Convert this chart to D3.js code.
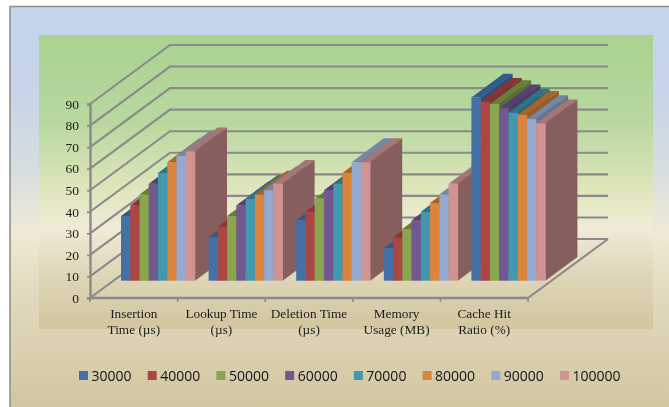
<!DOCTYPE html>
<html>
<head>
<meta charset="utf-8">
<script src="https://cdn.jsdelivr.net/npm/d3@7"></script>
<style>
html,body{margin:0;padding:0;background:#fff;overflow:hidden}
svg{display:block;filter:blur(0.45px)}
</style>
</head>
<body>
<div id="chart"></div>
<script>
const categories = [["Insertion","Time (µs)"],["Lookup Time","(µs)"],["Deletion Time","(µs)"],["Memory","Usage (MB)"],["Cache Hit","Ratio (%)"]];
const seriesNames = ["30000","40000","50000","60000","70000","80000","90000","100000"];
const s30000  = [30,20,28,15,85];
const s40000  = [35,25,32,20,83];
const s50000  = [40,30,38,24,82];
const s60000  = [45,35,42,28,80];
const s70000  = [50,38,45,32,78];
const s80000  = [55,40,50,36,77];
const s90000  = [58,42,55,40,75];
const s100000 = [60,45,55,45,73];
const seriesValues = [s30000,s40000,s50000,s60000,s70000,s80000,s90000,s100000];
const valueTicks = [0,10,20,30,40,50,60,70,80,90];
const frontColors = ["#4371a6","#aa4643","#89a54e","#71588f","#4198af","#db843d","#93a9cf","#d19392"];
const topColors   = ["#2f5b8e","#8a3431","#667f36","#553f75","#2c7486","#a86527","#7487a6","#a67675"];
const sideColors  = ["#2d4f78","#743230","#5c7036","#4c3b62","#2d6778","#945b2b","#66748e","#865e5e"];

const W = 669, H = 407;
const floorL = 90, floorR = 528, floorY = 298, topY = 104;
const wallDX = 80, wallDY = -59;
const barBackDX = 32, barBackDY = -23.8, barFrontDY = -17.3;
const gridColor = "#8a8a8a";

const svg = d3.select("#chart").append("svg").attr("width", W).attr("height", H);
const defs = svg.append("defs");
function grad(id, stops){
  defs.append("linearGradient").attr("id", id).attr("x1",0).attr("x2",0).attr("y1",0).attr("y2",1)
    .selectAll("stop").data(stops).join("stop")
    .attr("offset", d=>d[0]).attr("stop-color", d=>d[1]);
}
grad("outerG", [[0,"#c4d5ea"],[0.2,"#c6d5e7"],[0.38,"#d6dee0"],[0.53,"#efe9d6"],[0.7,"#e0d8ba"],[1,"#cfc19b"]]);
grad("innerG", [[0,"#a9d28f"],[0.3,"#b9d8a0"],[0.53,"#e0e6bc"],[0.66,"#f0ebd8"],[0.8,"#e0d8bb"],[1,"#d2c59f"]]);

svg.append("rect").attr("x",10).attr("y",6.5).attr("width",W+20).attr("height",H+20)
  .attr("fill","url(#outerG)").attr("stroke","#8c8c8c").attr("stroke-width",1.5);
svg.append("rect").attr("x",39).attr("y",35).attr("width",614).attr("height",294).attr("fill","url(#innerG)");

const y = d3.scaleLinear().domain([0,90]).range([floorY, topY]);
const x = d3.scaleBand().domain(d3.range(categories.length)).range([floorL, floorR]);
const inner = d3.scaleBand().domain(d3.range(seriesNames.length)).range([31, 31 + 74]);

// walls and floor
const grid = svg.append("g").attr("fill","none").attr("stroke",gridColor).attr("stroke-width",2.1);
grid.selectAll("path").data(valueTicks).join("path")
  .attr("d", v => d3.line()([[floorL,y(v)],[floorL+wallDX,y(v)+wallDY],[floorR+wallDX,y(v)+wallDY]]));
grid.append("path").attr("d", d3.line()([[floorR,floorY],[floorR+wallDX,floorY+wallDY]]));

// bars
const groups = svg.append("g").selectAll("g").data(categories.map((c,i)=>i)).join("g");
groups.each(function(ci){
  const g = d3.select(this);
  seriesValues.forEach((vals, si) => {
    const x0 = x(ci) + inner(si), w = inner.bandwidth();
    const yb = y(0) + barFrontDY, yt = y(vals[ci]) + barFrontDY;
    const line = d3.line();
    g.append("path").attr("fill", topColors[si])
      .attr("d", line([[x0,yt],[x0+barBackDX,yt+barBackDY],[x0+w+barBackDX,yt+barBackDY],[x0+w,yt]])+"Z");
    g.append("path").attr("fill", sideColors[si])
      .attr("d", line([[x0+w,yt],[x0+w+barBackDX,yt+barBackDY],[x0+w+barBackDX,yb+barBackDY],[x0+w,yb]])+"Z");
    g.append("rect").attr("x",x0).attr("y",yt).attr("width",w+0.3).attr("height",yb-yt).attr("fill",frontColors[si]);
  });
});

// value axis
const yAxis = svg.append("g").attr("transform",`translate(${floorL},0)`)
  .call(d3.axisLeft(y).tickValues(valueTicks).tickSize(3).tickPadding(8).tickFormat(d3.format("d")));
yAxis.selectAll("path").attr("stroke",gridColor).attr("stroke-width",2.4);
yAxis.selectAll("line").attr("stroke",gridColor).attr("stroke-width",1.8);
yAxis.selectAll("text").attr("font-family","'Liberation Serif'").attr("font-size",13.5).attr("fill","#1c1c1c");

// category axis
const catAxis = svg.append("g").attr("transform",`translate(0,${floorY})`);
catAxis.append("line").attr("x1",floorL).attr("x2",floorR).attr("stroke",gridColor).attr("stroke-width",2.4);
catAxis.selectAll("line.t").data(d3.range(categories.length+1)).join("line").attr("class","t")
  .attr("x1",i=>floorL+i*x.step()).attr("x2",i=>floorL+i*x.step()).attr("y1",0).attr("y2",4)
  .attr("stroke",gridColor).attr("stroke-width",1.6);
const lab = svg.append("g").selectAll("text").data(categories).join("text")
  .attr("text-anchor","middle").attr("font-family","'Liberation Serif'").attr("font-size",13.3).attr("fill","#1c1c1c");
lab.selectAll("tspan").data((d,i)=>d.map(t=>({t,i}))).join("tspan")
  .attr("x",d=>x(d.i)+x.bandwidth()/2)
  .attr("y",(d,j)=>317.5+j*16)
  .text(d=>d.t);

// legend
const legendX = d3.scalePoint().domain(seriesNames).range([79,560]);
const leg = svg.append("g").selectAll("g").data(seriesNames).join("g")
  .attr("transform",d=>`translate(${legendX(d)},371)`);
leg.append("rect").attr("width",9).attr("height",9).attr("fill",(d,i)=>frontColors[i]);
leg.append("text").attr("x",12.5).attr("y",9.6).attr("font-family","'Open Sans'").attr("font-size",14).attr("fill","#141414").text(d=>d);
</script>
</body>
</html>
